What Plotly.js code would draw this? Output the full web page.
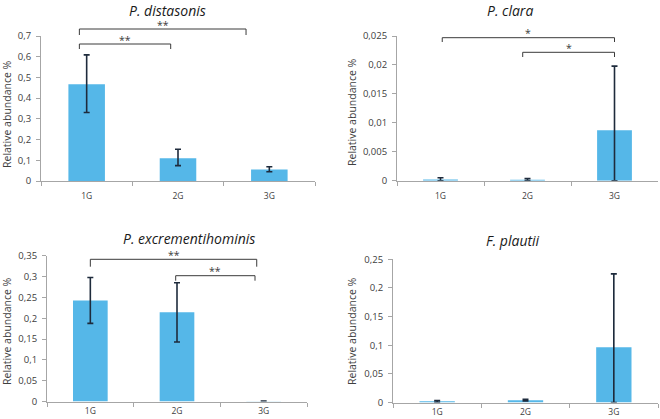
<!DOCTYPE html>
<html>
<head>
<meta charset="utf-8">
<script src="https://cdn.plot.ly/plotly-3.0.1.min.js"></script>
<style>html,body{margin:0;padding:0;background:#fff}#chart{width:660px;height:419px}</style>
</head>
<body>
<div id="chart"></div>
<script>
// ---- data ----
var categories = ["1G", "2G", "3G"];
var titles = ["P. distasonis", "P. clara", "P. excrementihominis", "F. plautii"];
var yAxisTitle = "Relative abundance %";

var distasonisMean = [0.467, 0.110, 0.056];
var distasonisErrPlus = [0.142, 0.043, 0.013];
var distasonisErrMinus = [0.136, 0.036, 0.011];

var claraMean = [0.0002, 0.00015, 0.0087];
var claraErrPlus = [0.0003, 0.0002, 0.0111];
var claraErrMinus = [0.0002, 0.00015, 0.0087];

var excrMean = [0.2425, 0.214, 0.0005];
var excrErrPlus = [0.055, 0.071, 0.0008];
var excrErrMinus = [0.055, 0.071, 0.0005];

var plautiiMean = [0.002, 0.004, 0.0966];
var plautiiErrPlus = [0.0015, 0.0015, 0.128];
var plautiiErrMinus = [0.0015, 0.0015, 0.0966];

var yRanges = [[0, 0.7], [0, 0.025], [0, 0.35], [0, 0.25]];
var yDtick = [0.1, 0.005, 0.05, 0.05];

// ---- layout helpers ----
var W = 660, H = 419;
function px(x) { return x / W; }
function py(y) { return 1 - y / H; }

var barColor = "#55B7E8";
var errColor = "#1E2B3C";
var axisColor = "#A6A6A6";
var textColor = "#404040";
var fontFam = "'Open Sans', 'Liberation Sans', sans-serif";

function trace(mean, ep, em, idx) {
  var s = idx === 1 ? "" : String(idx);
  return {
    type: "bar", x: categories, y: mean,
    xaxis: "x" + s, yaxis: "y" + s,
    marker: { color: barColor },
    error_y: { type: "data", array: ep, arrayminus: em, visible: true,
               color: errColor, thickness: 1.6, width: 3 },
    hoverinfo: "x+y", showlegend: false
  };
}

var data = [
  trace(distasonisMean, distasonisErrPlus, distasonisErrMinus, 1),
  trace(claraMean, claraErrPlus, claraErrMinus, 2),
  trace(excrMean, excrErrPlus, excrErrMinus, 3),
  trace(plautiiMean, plautiiErrPlus, plautiiErrMinus, 4)
];

// pixel boxes: [xLeft, xRight, yTop, yBottom]
var boxes = [[41, 315, 36, 181], [397, 658, 36, 180.7], [47, 307, 255.7, 401.5], [393, 658, 259.3, 402.5]];
var xStandoff = [7, 7, 1, 1];

var layout = {
  width: W, height: H,
  margin: { l: 0, r: 0, t: 0, b: 0 },
  paper_bgcolor: "#fff", plot_bgcolor: "rgba(0,0,0,0)",
  separators: ", ",
  bargap: 0.6,
  font: { family: fontFam, color: textColor },
  shapes: [], annotations: []
};

boxes.forEach(function (b, i) {
  var s = i === 0 ? "" : String(i + 1);
  layout["xaxis" + s] = {
    domain: [px(b[0]), px(b[1])], anchor: "y" + s,
    type: "category", range: [-0.5, 2.5],
    showline: true, linecolor: axisColor, linewidth: 1,
    ticks: "outside", tickson: "boundaries", ticklen: 4, tickcolor: axisColor,
    ticklabelstandoff: xStandoff[i],
    showgrid: false, zeroline: false, fixedrange: true,
    tickfont: { size: 8.5, color: textColor, family: fontFam }
  };
  layout["yaxis" + s] = {
    domain: [py(b[3]), py(b[2])], anchor: "x" + s,
    range: yRanges[i], dtick: yDtick[i], tick0: 0,
    showline: true, linecolor: axisColor, linewidth: 1,
    ticks: "outside", ticklen: 4, tickcolor: axisColor,
    ticklabelstandoff: 3,
    showgrid: false, zeroline: false, fixedrange: true,
    tickfont: { size: 9.5, color: textColor, family: fontFam }
  };
});

// titles: [centerX, topY]
var titlePos = [[168, 0], [510, 0], [189, 228], [513, 230]];
titlePos.forEach(function (p, i) {
  layout.annotations.push({
    text: "<i>" + titles[i] + "</i>", xref: "paper", yref: "paper",
    x: px(p[0]), y: py(p[1]), xanchor: "center", yanchor: "top",
    showarrow: false, borderpad: 0,
    font: { size: 14, color: "#1a1a1a", family: fontFam }
  });
});

// y axis titles
var yTitlePos = [[7, 114], [352, 112], [7, 331], [352, 331]];
yTitlePos.forEach(function (p) {
  layout.annotations.push({
    text: yAxisTitle, xref: "paper", yref: "paper",
    x: px(p[0]), y: py(p[1]), xanchor: "center", yanchor: "middle",
    textangle: -90, showarrow: false,
    font: { size: 10.5, color: textColor, family: fontFam }
  });
});

// significance brackets
function bracket(axIdx, x0, x1, yLine, yDrop, label) {
  var s = axIdx === 1 ? "" : String(axIdx);
  layout.shapes.push({
    type: "path", xref: "x" + s, yref: "paper",
    path: "M " + x0 + " " + py(yDrop) + " L " + x0 + " " + py(yLine) +
          " L " + x1 + " " + py(yLine) + " L " + x1 + " " + py(yDrop),
    line: { color: "#3a3a3a", width: 1 }
  });
  layout.annotations.push({
    text: label, xref: "x" + s, yref: "paper",
    x: (x0 + x1) / 2, y: py(yLine - 4.5), xanchor: "center", yanchor: "middle",
    showarrow: false, borderpad: 0, font: { size: 10.5, color: "#3a3a3a", family: fontFam }
  });
}
bracket(1, -0.08, 1.745, 29, 35, "**");
bracket(1, -0.08, 0.92, 44, 49, "**");
bracket(2, 0.02, 2.0, 37.7, 42, "*");
bracket(2, 0.945, 2.0, 52.3, 57, "*");
bracket(3, 0.0, 1.92, 259.3, 266.7, "**");
bracket(3, 0.985, 1.9, 275.7, 280.7, "**");

Plotly.newPlot("chart", data, layout, { displayModeBar: false, staticPlot: true });
</script>
</body>
</html>
